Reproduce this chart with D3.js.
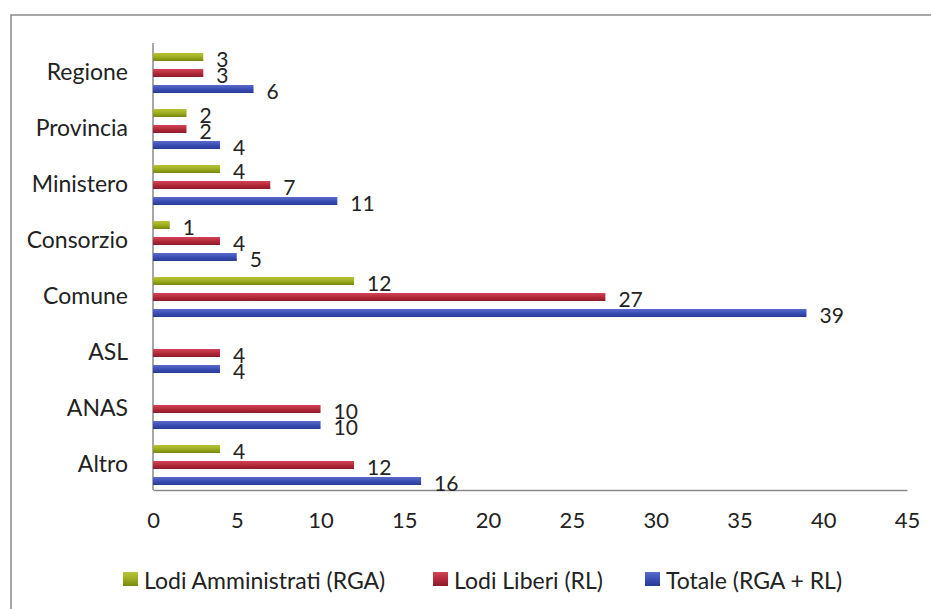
<!DOCTYPE html>
<html>
<head>
<meta charset="utf-8">
<script src="https://cdn.jsdelivr.net/npm/d3@7"></script>
<style>
  html, body { margin: 0; padding: 0; background: #fff; }
  svg { display: block; font-family: Lato, "Open Sans", sans-serif; }
</style>
</head>
<body>
<svg id="chart" width="931" height="609"></svg>
<script>
const categories = ["Regione", "Provincia", "Ministero", "Consorzio", "Comune", "ASL", "ANAS", "Altro"];
const seriesNames = ["Lodi Amministrati (RGA)", "Lodi Liberi (RL)", "Totale (RGA + RL)"];
const rga = [3, 2, 4, 1, 12, null, null, 4];
const rl = [3, 2, 7, 4, 27, 4, 10, 12];
const totale = [6, 4, 11, 5, 39, 4, 10, 16];
const xTicks = [0, 5, 10, 15, 20, 25, 30, 35, 40, 45];

const seriesValues = [rga, rl, totale];
const colors = [
  { top: "#b8c53c", mid: "#9dad20", bot: "#77870f" },
  { top: "#d24556", mid: "#b52a3b", bot: "#8c1a28" },
  { top: "#5a6dcc", mid: "#3b4fb5", bot: "#2a3a93" }
];

const svg = d3.select("#chart");

// frame
svg.append("rect")
  .attr("x", 11).attr("y", 15).attr("width", 940).attr("height", 620)
  .attr("fill", "#fff").attr("stroke", "#8a8a8a").attr("stroke-width", 1.5);

const defs = svg.append("defs");
colors.forEach((c, i) => {
  const g = defs.append("linearGradient").attr("id", "grad" + i)
    .attr("x1", 0).attr("y1", 0).attr("x2", 0).attr("y2", 1);
  g.append("stop").attr("offset", "0%").attr("stop-color", c.top);
  g.append("stop").attr("offset", "50%").attr("stop-color", c.mid);
  g.append("stop").attr("offset", "100%").attr("stop-color", c.bot);
});

const x = d3.scaleLinear().domain([0, 45]).range([153, 907]);
const y0 = d3.scaleBand().domain(categories).range([45, 493]);
const y1 = d3.scaleBand().domain(d3.range(3)).range([4, 52]).paddingInner(0.5).paddingOuter(0.25);

const font = "Lato, 'Open Sans', sans-serif";

// axes
const xAxis = d3.axisBottom(x).tickValues(xTicks).tickSize(0).tickPadding(22);
const gx = svg.append("g").attr("transform", "translate(0,490)").call(xAxis);
gx.select(".domain").attr("stroke", "#8a8a8a").attr("stroke-width", 1.5);
gx.selectAll("text").attr("font-size", 22).attr("fill", "#222").attr("font-family", font);

const yAxis = d3.axisLeft(y0).tickSize(0).tickPadding(25);
const gy = svg.append("g").attr("transform", "translate(153,0)").call(yAxis);
gy.select(".domain").attr("d", "M0,43V490").attr("stroke", "#8a8a8a").attr("stroke-width", 1.5);
gy.selectAll("text").attr("font-size", 23).attr("fill", "#222").attr("font-family", font);

// bars
const data = [];
categories.forEach((cat, ci) => {
  seriesValues.forEach((vals, si) => {
    data.push({ cat, si, v: vals[ci] });
  });
});

const groups = svg.append("g");
groups.selectAll("rect.bar")
  .data(data.filter(d => d.v != null))
  .join("rect")
  .attr("class", "bar")
  .attr("x", x(0))
  .attr("y", d => y0(d.cat) + y1(d.si))
  .attr("width", d => x(d.v) - x(0))
  .attr("height", y1.bandwidth())
  .attr("fill", d => "url(#grad" + d.si + ")");

groups.selectAll("text.val")
  .data(data.filter(d => d.v != null))
  .join("text")
  .attr("class", "val")
  .attr("x", d => x(d.v) + 13)
  .attr("y", d => y0(d.cat) + y1(d.si) + y1.bandwidth() / 2 + 1)
  .attr("dominant-baseline", "central")
  .attr("font-size", 21)
  .attr("fill", "#222")
  .text(d => d.v);

// legend
const legendX = [123, 433, 645];
const legend = svg.append("g");
seriesNames.forEach((name, i) => {
  legend.append("rect")
    .attr("x", legendX[i]).attr("y", 572).attr("width", 15).attr("height", 14)
    .attr("fill", "url(#grad" + i + ")");
  legend.append("text")
    .attr("x", legendX[i] + 21).attr("y", 580)
    .attr("dominant-baseline", "central")
    .attr("font-size", 23).attr("fill", "#222")
    .text(name);
});
</script>
</body>
</html>
